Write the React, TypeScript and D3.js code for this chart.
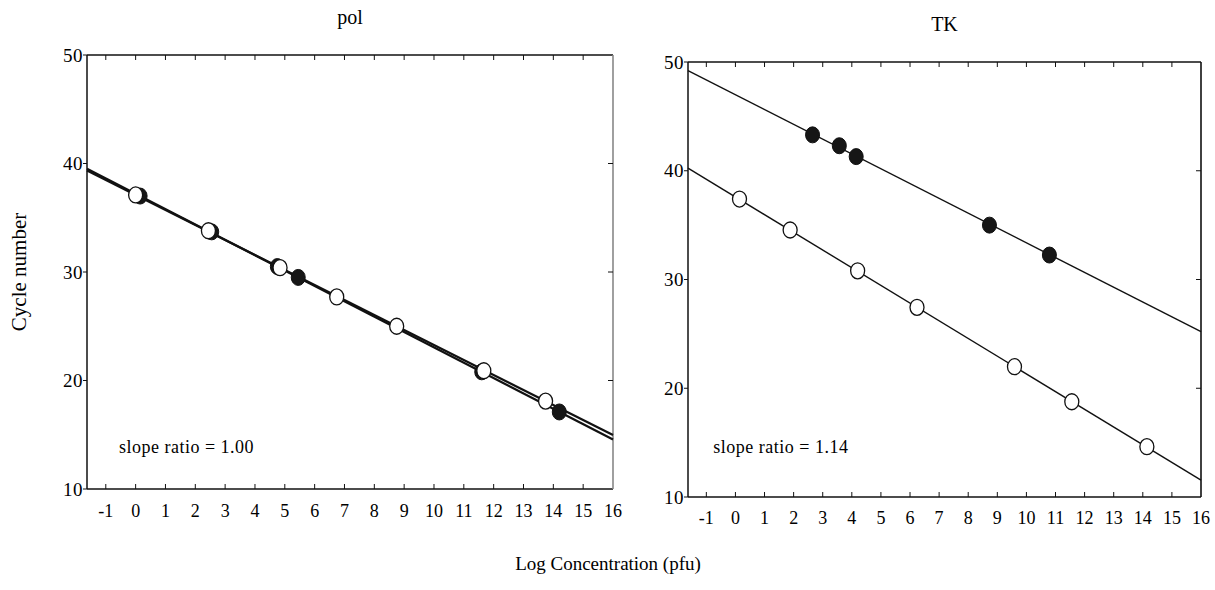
import * as d3 from 'd3';
import React from 'react';

// axis ticks shared by both panels
const xTicks = [-1, 0, 1, 2, 3, 4, 5, 6, 7, 8, 9, 10, 11, 12, 13, 14, 15, 16];
const yTicks = [10, 20, 30, 40, 50];
const xDomain = [-1.63, 16];
const yDomain = [10, 50];

// pol panel: [log conc, cycle]
const polOpen = [[0.0, 37.1], [2.44, 33.8], [4.84, 30.4], [6.74, 27.7], [8.75, 25.0], [11.67, 20.9], [13.74, 18.1]];
const polFilled = [[0.15, 37.0], [2.55, 33.7], [4.75, 30.5], [5.45, 29.5], [11.6, 20.8], [14.2, 17.1]];
// fitted lines: [intercept, slope]
const polOpenLine = [37.1, -1.383];
const polFilledLine = [37.21, -1.416];

// TK panel
const tkOpen = [[0.14, 37.4], [1.88, 34.55], [4.2, 30.8], [6.24, 27.44], [9.59, 21.98], [11.56, 18.76], [14.14, 14.63]];
const tkFilled = [[2.65, 43.3], [3.57, 42.3], [4.15, 41.3], [8.73, 35.0], [10.79, 32.25]];
const tkOpenLine = [37.59, -1.627];
const tkFilledLine = [46.99, -1.362];

const FONT = '"Liberation Serif", serif';

type Pt = number[];

const Panel = ({ left, top, right, bottom, title, titleY, note, openPts, filledPts, openLine, filledLine, lineW, rightColor, labelGap }: any) => {
  const x = d3.scaleLinear().domain(xDomain).range([left, right]);
  const y = d3.scaleLinear().domain(yDomain).range([bottom, top]);
  const line = d3.line<Pt>().x(d => x(d[0])).y(d => y(d[1]));
  const fit = (p: number[]) => line(xDomain.map(v => [v, p[0] + p[1] * v]));
  const tl = 5;
  return (
    <g>
      <text x={(left + right) / 2} y={titleY} textAnchor="middle" fontSize={20} fontFamily={FONT}>{title}</text>
      {/* frame */}
      <line x1={left} x2={right} y1={top} y2={top} stroke="#111" strokeWidth={1.5} />
      <line x1={left} x2={right} y1={bottom} y2={bottom} stroke="#111" strokeWidth={1.5} />
      <line x1={left} x2={left} y1={top} y2={bottom} stroke="#111" strokeWidth={1.5} />
      <line x1={right} x2={right} y1={top} y2={bottom} stroke={rightColor} strokeWidth={1.6} />
      {xTicks.filter(t => t < 16).map(t => (
        <g key={'xt' + t}>
          <line x1={x(t)} x2={x(t)} y1={top} y2={top + tl} stroke="#111" strokeWidth={1} />
          <line x1={x(t)} x2={x(t)} y1={bottom} y2={bottom - tl} stroke="#111" strokeWidth={1} />
        </g>
      ))}
      {xTicks.map(t => (
        <text key={'xl' + t} x={x(t)} y={bottom + labelGap} textAnchor="middle" fontSize={18} fontFamily={FONT}>{t}</text>
      ))}
      {yTicks.map(t => (
        <g key={'yt' + t}>
          <line x1={left - 4} x2={left} y1={y(t)} y2={y(t)} stroke="#111" strokeWidth={1} />
          {t > 10 && t < 50 && <line x1={right} x2={right - tl} y1={y(t)} y2={y(t)} stroke="#111" strokeWidth={1} />}
          <text x={left - 4} y={y(t)} dy="0.35em" textAnchor="end" fontSize={19} letterSpacing={0.5} fontFamily={FONT}>{t}</text>
        </g>
      ))}
      <path d={fit(filledLine) || ''} fill="none" stroke="#111" strokeWidth={lineW} />
      <path d={fit(openLine) || ''} fill="none" stroke="#111" strokeWidth={lineW} />
      {filledPts.map((d: Pt, i: number) => (
        <ellipse key={'f' + i} cx={x(d[0])} cy={y(d[1])} rx={7} ry={8} fill="#161616" stroke="#111" strokeWidth={1} />
      ))}
      {openPts.map((d: Pt, i: number) => (
        <ellipse key={'o' + i} cx={x(d[0])} cy={y(d[1])} rx={7} ry={8} fill="#fff" stroke="#111" strokeWidth={1.3} />
      ))}
      <text x={x(note.x)} y={y(note.y)} fontSize={18} letterSpacing={0.5} fontFamily={FONT}>{note.text}</text>
    </g>
  );
};

export default function App() {
  return (
    <svg width={1215} height={590} style={{ position: 'absolute', left: 0, top: 0, background: '#fff' }}>
      <Panel left={87} top={55} right={613} bottom={489} title="pol" titleY={24}
        note={{ x: -0.56, y: 13.3, text: 'slope ratio = 1.00' }}
        openPts={polOpen} filledPts={polFilled} openLine={polOpenLine} filledLine={polFilledLine}
        lineW={2.2} rightColor="#888" labelGap={28} />
      <Panel left={688} top={62} right={1201} bottom={497} title="TK" titleY={31}
        note={{ x: -0.76, y: 14.05, text: 'slope ratio = 1.14' }}
        openPts={tkOpen} filledPts={tkFilled} openLine={tkOpenLine} filledLine={tkFilledLine}
        lineW={1.4} rightColor="#111" labelGap={27} />
      <text transform="translate(26,272) rotate(-90)" textAnchor="middle" fontSize={21} fontFamily={FONT}>Cycle number</text>
      <text x={608} y={570} textAnchor="middle" fontSize={19} fontFamily={FONT}>Log Concentration (pfu)</text>
    </svg>
  );
}
